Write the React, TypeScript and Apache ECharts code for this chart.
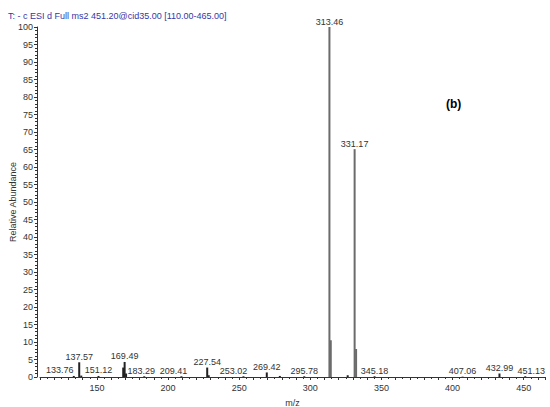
import React, { useEffect, useRef } from "react";
import * as echarts from "echarts";

const titleText = "T: - c ESI d Full ms2 451.20@cid35.00 [110.00-465.00]";
const panelLabel = "(b)";
const xName = "m/z";
const yName = "Relative Abundance";

const mzValues = [
  133.76, 137.57, 139.0, 151.12, 168.5, 169.49, 170.5, 183.29, 209.41, 227.54,
  228.6, 253.02, 269.42, 278.6, 295.78, 313.46, 314.4, 326.3, 331.17, 332.2,
  345.18, 407.06, 432.99, 451.13,
];
const abundances = [
  0.3, 4.2, 0.4, 0.3, 2.7, 4.3, 1.0, 0.2, 0.2, 2.7,
  0.5, 0.2, 1.3, 0.3, 0.2, 100, 10.5, 0.5, 65.1, 8.0,
  0.2, 0.1, 1.0, 0.2,
];
const peakLabels = [
  "133.76", "137.57", "", "151.12", "", "169.49", "", "183.29", "209.41", "227.54",
  "", "253.02", "269.42", "", "295.78", "313.46", "", "", "331.17", "",
  "345.18", "407.06", "432.99", "451.13",
];

// horizontal shifts of some labels (style only), keyed by label text
const labelShift: Record<string, number> = {
  "133.76": -14,
  "183.29": -3,
  "209.41": -8,
  "253.02": -10,
  "451.13": 6,
};

const xMin = 110;
const xMax = 465;

export default function App() {
  const ref = useRef<HTMLDivElement>(null);
  useEffect(() => {
    if (!ref.current) return;
    const chart = echarts.init(ref.current, null, { renderer: "svg" });
    const font = "Liberation Sans, Arial, sans-serif";
    const data = mzValues.map((m, i) => ({
      value: [m, abundances[i]],
      itemStyle: { color: abundances[i] > 5 ? "#6b6b6b" : "#222" },
      label: {
        show: peakLabels[i] !== "",
        formatter: peakLabels[i],
      },
    }));
    chart.setOption({
      animation: false,
      backgroundColor: "#fff",
      grid: { left: 40, right: 5, top: 27, bottom: 30, containLabel: false, outerBoundsMode: "none" },
      title: {
        text: titleText,
        left: 3,
        top: 6,
        textStyle: { fontSize: 9, fontWeight: "normal", color: "#3636a8", fontFamily: font },
      },
      graphic: [
        {
          type: "text",
          left: 446,
          top: 98,
          style: { text: panelLabel, font: "bold 12px Liberation Sans, Arial, sans-serif", fill: "#000" },
        },
      ],
      xAxis: {
        type: "value",
        min: xMin,
        max: xMax,
        interval: 10,
        name: xName,
        nameLocation: "middle",
        nameGap: 21,
        nameMoveOverlap: false,
        nameTextStyle: { fontSize: 9, color: "#333", fontFamily: font },
        axisLine: { show: true, lineStyle: { color: "#333", width: 1 } },
        axisTick: { show: true, length: 3, inside: false, lineStyle: { color: "#333" } },
        minorTick: { show: true, splitNumber: 2, length: 2, lineStyle: { color: "#333" } },
        splitLine: { show: false },
        axisLabel: {
          fontSize: 9,
          color: "#333",
          fontFamily: font,
          margin: 6,
          showMinLabel: false,
          showMaxLabel: false,
          formatter: (v: number) => (v % 50 === 0 ? String(v) : ""),
        },
      },
      yAxis: {
        type: "value",
        min: 0,
        max: 100,
        interval: 5,
        offset: 3,
        name: yName,
        nameLocation: "middle",
        nameGap: 20,
        nameMoveOverlap: false,
        nameTextStyle: { fontSize: 9, color: "#333", fontFamily: font },
        axisLine: { show: true, lineStyle: { color: "#333", width: 1 } },
        axisTick: { show: true, length: 3, lineStyle: { color: "#333" } },
        minorTick: { show: true, splitNumber: 5, length: 2, lineStyle: { color: "#333" } },
        splitLine: { show: false },
        axisLabel: { fontSize: 9, color: "#333", fontFamily: font, margin: 4 },
      },
      series: [
        {
          type: "bar",
          barWidth: 2,
          data,
          label: {
            position: "top",
            distance: 1,
            fontSize: 9,
            color: "#333",
            fontFamily: font,
          },
          labelLayout: (params: any) => {
            const i = params.dataIndex;
            const shift = labelShift[peakLabels[i]] || 0;
            return { dx: shift };
          },
        },
      ],
    });
    return () => chart.dispose();
  }, []);
  return (
    <div
      ref={ref}
      style={{ position: "fixed", left: 0, top: 0, width: 550, height: 407, background: "#fff" }}
    />
  );
}
